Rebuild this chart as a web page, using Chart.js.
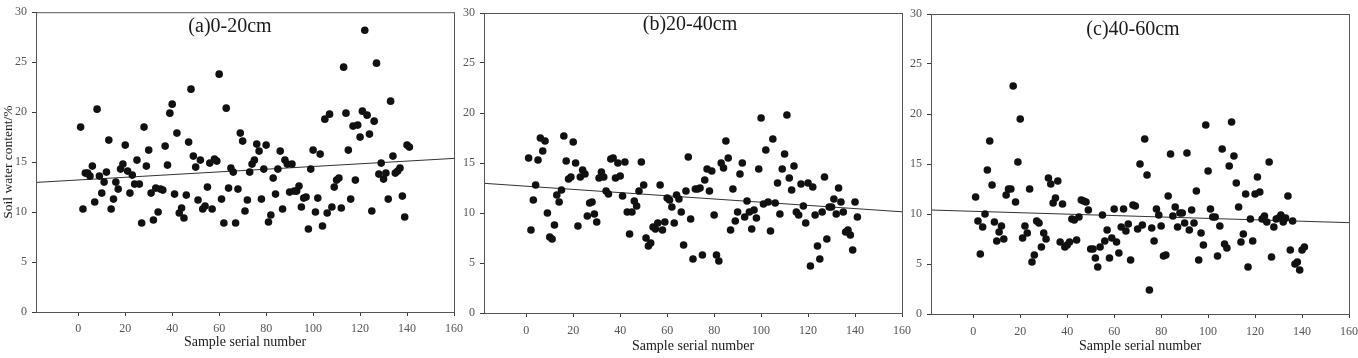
<!DOCTYPE html>
<html>
<head>
<meta charset="utf-8">
<script src="https://cdn.jsdelivr.net/npm/chart.js@4.4.0/dist/chart.umd.min.js"></script>
<style>
  html, body { margin: 0; padding: 0; background: #fff; }
  #wrap { position: relative; width: 1358px; height: 358px; }
  #wrap canvas { position: absolute; left: 0; top: 0; }
</style>
</head>
<body>
<div id="wrap">
  <canvas id="chart-a" width="1358" height="358"></canvas>
  <canvas id="chart-b" width="1358" height="358"></canvas>
  <canvas id="chart-c" width="1358" height="358"></canvas>
</div>
<script>
// sample serial numbers 1..141
const samples = Array.from({ length: 141 }, (_, i) => i + 1);

// soil water content (%) per sample
const water0_20 = [
  18.5, 10.3, 13.9, 13.9, 13.6, 14.6, 11.0, 20.3, 13.6, 11.9,
  13.0, 14.0, 17.2, 10.3, 11.3, 13.0, 12.3, 14.3, 14.8, 16.7,
  14.1, 11.9, 13.7, 12.8, 15.2, 12.8, 8.9, 18.5, 14.6, 16.2,
  11.9, 9.2, 12.4, 10.0, 12.3, 12.2, 16.6, 14.7, 19.9, 20.8,
  11.8, 17.9, 9.9, 10.4, 9.4, 11.7, 17.0, 22.3, 15.6, 14.5,
  11.2, 15.2, 10.3, 10.6, 12.5, 14.9, 10.3, 15.3, 15.1, 23.8,
  11.3, 8.9, 20.4, 12.4, 14.4, 14.0, 8.9, 12.3, 17.9, 17.1,
  10.1, 11.2, 14.0, 14.8, 15.2, 16.8, 16.1, 11.3, 14.3, 16.7,
  9.0, 9.7, 13.4, 11.8, 14.3, 16.1, 10.3, 15.2, 14.8, 12.0,
  14.8, 12.1, 12.1, 12.6, 10.5, 11.4, 11.5, 8.3, 14.3, 16.2,
  10.0, 11.4, 15.8, 8.6, 19.3, 9.9, 19.8, 10.5, 12.5, 13.2,
  13.4, 10.4, 24.5, 19.9, 16.2, 11.3, 18.6, 13.2, 18.7, 17.5,
  20.1, 28.2, 19.7, 17.8, 10.1, 19.1, 24.9, 13.8, 14.9, 13.3,
  13.9, 11.3, 21.1, 15.6, 13.9, 14.1, 14.4, 11.6, 9.5, 16.7,
  16.5
];

const water20_40 = [
  15.5, 8.3, 11.3, 12.8, 15.3, 17.5, 16.2, 17.2, 10.0, 7.6,
  7.4, 8.8, 11.8, 11.1, 12.3, 17.7, 15.2, 13.4, 13.6, 17.1,
  15.0, 8.7, 13.6, 14.3, 13.9, 9.7, 11.0, 11.1, 9.9, 9.1,
  13.5, 14.1, 13.6, 12.2, 11.9, 15.4, 15.5, 13.5, 15.0, 13.7,
  11.7, 15.1, 10.1, 7.9, 10.1, 11.2, 10.7, 12.2, 15.1, 12.8,
  7.5, 6.7, 7.0, 8.6, 8.4, 9.0, 12.8, 8.3, 9.1, 11.5,
  11.3, 10.6, 9.0, 11.8, 11.4, 10.1, 6.8, 12.2, 15.6, 9.4,
  5.4, 12.4, 12.4, 12.5, 5.8, 13.3, 14.4, 12.2, 14.2, 9.8,
  5.8, 5.2, 15.0, 14.5, 17.2, 15.5, 8.3, 12.4, 9.2, 10.1,
  13.9, 15.0, 9.6, 11.2, 10.1, 8.4, 10.3, 9.5, 14.4, 19.5,
  10.9, 16.3, 11.1, 8.2, 17.4, 11.0, 13.0, 9.9, 14.4, 15.9,
  19.8, 13.5, 12.3, 14.7, 10.1, 9.8, 12.9, 10.7, 9.0, 13.0,
  4.7, 12.6, 9.8, 6.7, 5.4, 10.1, 13.6, 7.4, 10.6, 10.6,
  11.4, 9.9, 12.5, 11.1, 10.1, 8.1, 8.3, 7.8, 6.3, 11.1,
  9.6
];

const water40_60 = [
  11.7, 9.3, 6.0, 8.7, 10.0, 14.4, 17.3, 12.9, 9.2, 7.3,
  8.2, 8.8, 7.5, 11.9, 12.5, 12.5, 22.8, 11.2, 15.2, 19.5,
  7.6, 8.8, 8.1, 12.5, 5.2, 5.9, 9.3, 9.1, 6.7, 8.1,
  7.5, 13.6, 13.0, 11.1, 11.6, 13.3, 7.2, 11.0, 6.7, 6.9,
  7.2, 9.5, 9.4, 7.4, 9.7, 11.4, 11.3, 11.2, 10.4, 6.5,
  6.5, 5.6, 4.7, 6.7, 9.9, 7.3, 8.4, 5.6, 7.6, 10.5,
  7.2, 6.1, 8.7, 10.5, 8.3, 9.0, 5.4, 10.9, 10.8, 8.5,
  15.0, 8.9, 17.5, 13.9, 2.4, 8.6, 7.3, 10.5, 9.9, 8.8,
  5.8, 5.9, 11.8, 16.0, 9.8, 10.7, 8.7, 10.1, 10.1, 9.1,
  16.1, 8.4, 10.4, 9.1, 12.3, 5.4, 8.1, 6.9, 18.9, 14.3,
  10.5, 9.7, 9.7, 5.8, 8.8, 16.5, 7.0, 6.6, 14.8, 19.2,
  15.8, 13.1, 10.7, 7.2, 8.0, 12.0, 4.7, 9.5, 7.3, 12.0,
  13.7, 12.2, 9.5, 9.8, 9.2, 15.2, 5.7, 8.7, 9.5, 9.6,
  9.9, 9.2, 9.6, 11.8, 6.4, 9.3, 5.0, 5.2, 4.4, 6.4,
  6.7
];

// linear trend lines (intercept, slope)
const trend0_20 = [13.21, 0.0135];
const trend20_40 = [12.68, -0.016];
const trend40_60 = [10.27, -0.0071];

const xTicks = [0, 20, 40, 60, 80, 100, 120, 140, 160];
const yTicks = [0, 5, 10, 15, 20, 25, 30];
const xMin = -18, xMax = 160;

const serif = "'Liberation Serif', 'Times New Roman', serif";
const axisColor = '#3a3a3a';

// frame around the plot area plus the depth label inside it
const framePlugin = {
  id: 'frame',
  afterDraw(chart, args, opts) {
    const { ctx, chartArea: a } = chart;
    ctx.save();
    ctx.strokeStyle = '#555';
    ctx.lineWidth = 1;
    ctx.strokeRect(a.left + 0.5, a.top + 0.5, a.right - a.left, a.bottom - a.top);
    ctx.fillStyle = '#1a1a1a';
    ctx.font = '20px ' + serif;
    ctx.textAlign = 'center';
    ctx.textBaseline = 'middle';
    ctx.fillText(opts.text, (a.left + a.right) / 2 + opts.dx, a.top + opts.dy);
    ctx.restore();
  }
};

function makePanel(id, values, trend, p) {
  const pts = samples.map((s, i) => ({ x: s, y: values[i] }));
  const line = [xMin, xMax].map(x => ({ x: x, y: trend[0] + trend[1] * x }));
  const ctx = document.getElementById(id).getContext('2d');
  return new Chart(ctx, {
    type: 'scatter',
    data: {
      datasets: [{
        data: pts,
        backgroundColor: '#111',
        borderWidth: 0,
        pointRadius: 3.8,
        pointHoverRadius: 3.8
      }, {
        type: 'line',
        data: line,
        borderColor: '#333',
        borderWidth: 1,
        pointRadius: 0,
        fill: false
      }]
    },
    options: {
      responsive: false,
      animation: false,
      events: [],
      layout: { padding: { left: p.left, right: p.right, top: p.top, bottom: 0 } },
      plugins: {
        legend: { display: false },
        tooltip: { enabled: false },
        frame: { text: p.title, dx: p.titleDx, dy: p.titleDy }
      },
      scales: {
        x: {
          type: 'linear',
          min: xMin,
          max: xMax,
          afterBuildTicks: s => { s.ticks = xTicks.map(v => ({ value: v })); },
          afterFit: s => { s.height = p.xHeight; s.paddingLeft = 0; s.paddingRight = 0; },
          grid: { drawOnChartArea: false, drawTicks: true, tickLength: 4, color: axisColor },
          border: { display: true, color: axisColor, width: 1 },
          ticks: { color: '#555', padding: p.tickPad, maxRotation: 0, font: { family: serif, size: 12 } },
          title: {
            display: true,
            text: 'Sample serial number',
            color: '#1a1a1a',
            padding: { top: 0, bottom: p.titlePad },
            font: { family: serif, size: 14 }
          }
        },
        y: {
          min: 0,
          max: 30,
          afterBuildTicks: s => { s.ticks = yTicks.map(v => ({ value: v })); },
          afterFit: s => { s.width = p.yWidth; },
          grid: { drawOnChartArea: false, drawTicks: true, tickLength: 4, color: axisColor },
          border: { display: true, color: axisColor, width: 1 },
          ticks: { color: '#555', padding: 5, font: { family: serif, size: 12 } },
          title: {
            display: p.yTitle,
            text: 'Soil water content/%',
            color: '#1a1a1a',
            padding: { top: 0, bottom: 0 },
            font: { family: serif, size: 13.5 }
          }
        }
      }
    },
    plugins: [framePlugin]
  });
}

makePanel('chart-a', water0_20, trend0_20, {
  left: 0, right: 904, top: 12, yWidth: 36, xHeight: 46, tickPad: 6, titlePad: 7,
  yTitle: true, title: '(a)0-20cm', titleDx: -15, titleDy: 15
});
makePanel('chart-b', water20_40, trend20_40, {
  left: 460, right: 456, top: 13, yWidth: 24, xHeight: 45, tickPad: 7, titlePad: 3,
  yTitle: false, title: '(b)20-40cm', titleDx: -3, titleDy: 12
});
makePanel('chart-c', water40_60, trend40_60, {
  left: 906, right: 9, top: 14, yWidth: 25, xHeight: 44, tickPad: 7, titlePad: 3,
  yTitle: false, title: '(c)40-60cm', titleDx: -7, titleDy: 16
});
</script>
</body>
</html>
